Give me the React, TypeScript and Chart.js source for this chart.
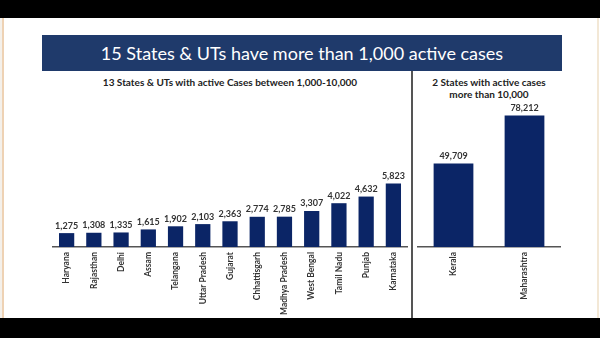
import React, { useEffect, useRef } from "react";
import { Chart, registerables } from "chart.js";

Chart.register(...registerables);

const smallStates = [
  "Haryana", "Rajasthan", "Delhi", "Assam", "Telangana", "Uttar Pradesh", "Gujarat",
  "Chhattisgarh", "Madhya Pradesh", "West Bengal", "Tamil Nadu", "Punjab", "Karnataka",
];
const smallCases = [1275, 1308, 1335, 1615, 1902, 2103, 2363, 2774, 2785, 3307, 4022, 4632, 5823];
const bigStates = ["Kerala", "Maharashtra"];
const bigCases = [49709, 78212];

const mainTitle = "15 States & UTs have more than 1,000 active cases";
const leftTitle = "13 States & UTs with active Cases between 1,000-10,000";
const rightTitleLines = ["2 States with active cases", "more than 10,000"];

const BAR = "#0b2566";
const FONT = "Lato, 'Open Sans', sans-serif";

const valueLabels = {
  id: "valueLabels",
  afterDatasetsDraw(chart: any) {
    const ctx = chart.ctx;
    const meta = chart.getDatasetMeta(0);
    const data = chart.data.datasets[0].data as number[];
    ctx.save();
    ctx.fillStyle = "#333";
    ctx.font = `bold 9px ${FONT}`;
    ctx.textAlign = "center";
    ctx.textBaseline = "bottom";
    meta.data.forEach((bar: any, i: number) => {
      ctx.fillText(data[i].toLocaleString("en-US"), bar.x, bar.y - 3);
    });
    ctx.restore();
  },
};

function makeConfig(labels: string[], values: number[], max: number, padding: any, barPct: number): any {
  return {
    type: "bar",
    data: {
      labels,
      datasets: [
        {
          data: values,
          backgroundColor: BAR,
          borderWidth: 0,
          barPercentage: barPct,
          categoryPercentage: 1,
        },
      ],
    },
    options: {
      responsive: false,
      animation: false,
      layout: { padding },
      plugins: { legend: { display: false }, tooltip: { enabled: false }, title: { display: false } },
      scales: {
        y: { display: false, min: 0, max },
        x: {
          grid: { display: false, drawTicks: false },
          border: { display: true, color: "#555", width: 1.5 },
          afterFit: (axis: any) => {
            axis.height = 71;
          },
          ticks: {
            autoSkip: false,
            maxRotation: 90,
            minRotation: 90,
            padding: 5,
            color: "#333",
            font: { family: FONT, size: 8.5, weight: "bold" },
          },
        },
      },
    },
    plugins: [valueLabels],
  };
}

export default function App() {
  const leftRef = useRef<HTMLCanvasElement>(null);
  const rightRef = useRef<HTMLCanvasElement>(null);

  useEffect(() => {
    const left = new Chart(
      leftRef.current!,
      makeConfig(smallStates, smallCases, 13500, { left: 53, right: 193, top: 100, bottom: 20 }, 0.56)
    );
    const right = new Chart(
      rightRef.current!,
      makeConfig(bigStates, bigCases, 87500, { left: 418, right: 40, top: 100, bottom: 20 }, 0.56)
    );
    return () => {
      left.destroy();
      right.destroy();
    };
  }, []);

  const abs = (s: React.CSSProperties): React.CSSProperties => ({ position: "absolute", ...s });

  return (
    <div style={{ position: "fixed", left: 0, top: 0, width: 600, height: 338, background: "#fff", overflow: "hidden", fontFamily: FONT }}>
      <div style={abs({ left: 0, top: 0, width: 600, height: 18, background: "#000" })} />
      <div style={abs({ left: 0, top: 318, width: 600, height: 20, background: "#000" })} />
      <div style={abs({ left: 0, top: 18, width: 2, height: 300, background: "#f4f0ea" })} />
      <div style={abs({ left: 2, top: 18, width: 2, height: 300, background: "#eed2b4" })} />
      <div style={abs({ left: 597, top: 18, width: 2, height: 300, background: "#f3e8d6" })} />
      <div
        style={abs({
          left: 42,
          top: 35,
          width: 520,
          height: 36,
          background: "#1f3a6b",
          color: "#fff",
          fontSize: 18,
          lineHeight: "36px",
          textAlign: "center",
          fontFamily: "Lato, sans-serif",
        })}
      >
        {mainTitle}
      </div>
      <div style={abs({ left: 411, top: 71, width: 1.5, height: 247, background: "#555" })} />
      <div
        style={abs({
          left: 53,
          top: 75,
          width: 354,
          textAlign: "center",
          fontSize: 10,
          fontWeight: "bold",
          color: "#222",
          lineHeight: "14px",
        })}
      >
        {leftTitle}
      </div>
      <div
        style={abs({
          left: 418,
          top: 76,
          width: 142,
          textAlign: "center",
          fontSize: 10,
          fontWeight: "bold",
          color: "#222",
          lineHeight: "12px",
        })}
      >
        {rightTitleLines.map((t) => (
          <div key={t}>{t}</div>
        ))}
      </div>
      <canvas ref={leftRef} width={600} height={338} style={abs({ left: 0, top: 0 })} />
      <canvas ref={rightRef} width={600} height={338} style={abs({ left: 0, top: 0 })} />
    </div>
  );
}
